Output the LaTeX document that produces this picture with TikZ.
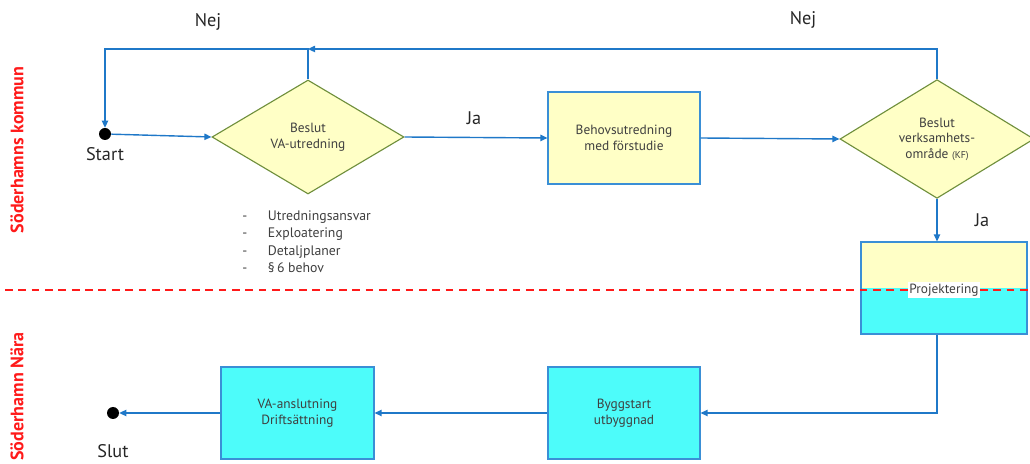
\documentclass[tikz,border=0pt]{standalone}
\usepackage{fontspec}
\setmainfont{PT Sans}
\usepackage{tikz}
\usetikzlibrary{positioning, arrows.meta, shapes.geometric, calc}
\definecolor{Flow}{HTML}{1F78C8}
\definecolor{BoxEdge}{HTML}{3A8FD6}
\definecolor{Olive}{HTML}{6F8F3C}
\definecolor{Pale}{HTML}{FFFFC6}
\definecolor{Aqua}{HTML}{4DFCFA}
\definecolor{Signal}{HTML}{FF1A1A}
\definecolor{Ink}{HTML}{262626}
\definecolor{Grey70}{HTML}{3F3F3F}

\begin{document}
\begin{tikzpicture}[
    every node/.style={font=\fontsize{9.5}{11}\selectfont, text=Grey70},
    flow/.style={line width=1pt, Flow, -{Triangle[length=5pt, width=4.5pt]}},
    decision/.style={diamond, draw=Olive, fill=Pale, thick, inner sep=0pt, minimum width=4.8cm, minimum height=2.85cm, align=center},
    task/.style={rectangle, draw=BoxEdge, thick, minimum width=3.8cm, minimum height=2.3cm, align=center},
    dot/.style={circle, fill=black, minimum size=0.3cm, inner sep=0pt},
    answer/.style={font=\fontsize{13}{15}\selectfont, text=Ink},
    lane/.style={font=\fontsize{12.8}{14}\selectfont\bfseries, text=Signal, rotate=90}
]
\useasboundingbox (0,0) rectangle (25.75,11.575);

% === LANE LABELS ===
\node[lane] (kommun) at (0.425, 7.825) {Söderhamns kommun};
\node[lane] (nara) at (0.425, 1.66) {Söderhamn Nära};

% === UPPER LANE ===
\node[dot] (start) at (2.625, 8.225) {};
\node[answer, below=0.05cm of start] (startlbl) {Start};

\node[decision] (beslutva) at (7.7, 8.15) {Beslut\\VA-utredning};
\node[task, fill=Pale] (behov) at (15.6, 8.125) {Behovsutredning\\med förstudie};
\node[decision, minimum width=4.85cm, minimum height=2.8cm] (beslutkf) at (23.425, 8.1)
    {Beslut\\verksamhets-\\område {\fontsize{7}{8}\selectfont(KF)}};

% Bullet list under the first decision
\node[anchor=north west, inner sep=0pt, align=left, font=\fontsize{9.8}{12.5}\selectfont] (lista) at (6.05, 6.32)
    {\makebox[0.64cm][l]{-}Utredningsansvar\\
     \makebox[0.64cm][l]{-}Exploatering\\
     \makebox[0.64cm][l]{-}Detaljplaner\\
     \makebox[0.64cm][l]{-}§\,6 behov};

% Return line corners
\coordinate (topM) at (7.7, 10.35);

\node[answer] (nej1) at (5.2, 11.025) {Nej};
\node[answer] (nej2) at (20.075, 11.075) {Nej};
\node[answer] (ja1) at (11.85, 8.625) {Ja};
\node[answer] (ja2) at (24.55, 6.075) {Ja};

% === PROJEKTERING (shared) ===
\node[task, fill=Pale, minimum width=4.15cm,
      path picture={\fill[Aqua] (path picture bounding box.west) rectangle (path picture bounding box.south east);}]
      (proj) at (23.6, 4.375) {};

\draw[Signal, line width=0.9pt, dash pattern=on 5.5pt off 4pt] (0.125, 4.325) -- (25.75, 4.325);
\node[fill=white, inner sep=1pt] (projlbl) at ($(proj.center)+(0,-0.05)$) {Projektering};

% === LOWER LANE ===
\node[task, fill=Aqua] (bygg) at (15.6, 1.25) {Byggstart\\utbyggnad};
\node[task, fill=Aqua, minimum width=3.825cm] (anslut) at (7.4375, 1.25) {VA-anslutning\\Driftsättning};
\node[dot] (slut) at (2.825, 1.25) {};
\node[answer, below=0.5cm of slut] (slutlbl) {Slut};

% === CONNECTORS ===
\draw[flow] (start) -- (beslutva.west);
\draw[flow] (beslutva.east) -- (behov.west);
\draw[flow] (behov.east) -- (beslutkf.west);
\draw[flow] (beslutkf.north) |- (topM);
\draw[flow] (beslutva.north) -- (topM) -| (start.north);
\draw[flow] (beslutkf.south) -- (beslutkf.south |- proj.north);
\draw[flow] (beslutkf.south |- proj.south) |- (bygg.east);
\draw[flow] (bygg.west) -- (anslut.east);
\draw[flow] (anslut.west) -- (slut.east);

\end{tikzpicture}
\end{document}
